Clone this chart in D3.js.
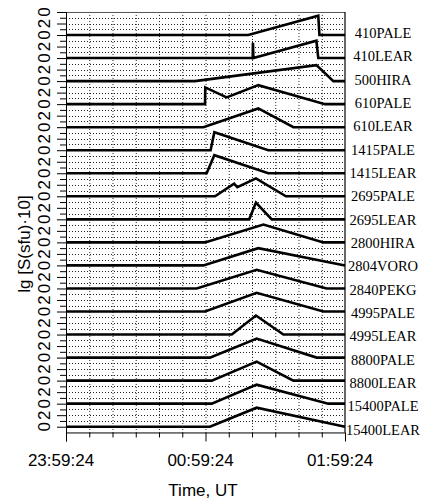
<!DOCTYPE html>
<html><head><meta charset="utf-8">
<script src="https://cdn.jsdelivr.net/npm/d3@7"></script>
<style>body{margin:0;background:#fff}svg{display:block}</style>
</head><body>
<script>
// station labels (top to bottom)
const stations = ["410PALE","410LEAR","500HIRA","610PALE","610LEAR","1415PALE","1415LEAR","2695PALE","2695LEAR","2800HIRA","2804VORO","2840PEKG","4995PALE","4995LEAR","8800PALE","8800LEAR","15400PALE","15400LEAR"];
// time of each vertex, minutes after 23:59:24 UT
const times = [
  [0,78.4,108.5,109.0,120],
  [0,80.3,80.4,80.6,107.7,108.5,120],
  [0,55.5,107.7,115.0,120],
  [0,59.8,59.9,69.1,82.7,111.4,120],
  [0,59.1,82.7,97.8,120],
  [0,62.2,63.8,87.0,120],
  [0,60.5,63.8,87.0,120],
  [0,64.1,72.3,73.7,81.7,94.6,120],
  [0,78.8,81.7,88.5,120],
  [0,59.8,84.9,110.7,120],
  [0,59.1,82.7,120],
  [0,56.2,82.0,112.1,120],
  [0,59.8,82.0,110.7,120],
  [0,71.3,81.7,93.5,120],
  [0,61.9,82.0,107.8,120],
  [0,62.7,82.0,97.8,120],
  [0,62.7,82.0,112.8,120],
  [0,61.9,82.0,120]
];
// lg [S(sfu)*10] value at each vertex
const values = [
  [0,0,3.36,0,0],
  [0,0,2.66,0,3.0,0,0],
  [0,0,2.78,0,0],
  [0,0,2.9,1.17,3.3,0,0],
  [0,0,3.25,0,0],
  [0,0,3.13,0,0],
  [0,0,3.13,0,0],
  [0,0,2.2,1.6,3.1,0,0],
  [0,0,2.9,0,0],
  [0,0,3.1,0,0],
  [0,0,3.0,0],
  [0,0,3.25,0,0],
  [0,0,3.25,0,0],
  [0,0,3.3,0,0],
  [0,0,3.3,0,0],
  [0,0,3.3,0,0],
  [0,0,3.3,0,0],
  [0,0,3.3,0]
];
const xTickLabels = ["23:59:24","00:59:24","01:59:24"];
const yTickLabels = ["0","2"];
const rowSpan = 4; // lg units per row

const W=422,H=501;
const svg=d3.select("body").append("svg").attr("width",W).attr("height",H);
const nRows=stations.length;
const x=d3.scaleLinear().domain([0,120]).range([66,345]);
// stacked lg scale: bottom row baseline = 0
const y=d3.scaleLinear().domain([0,nRows*rowSpan]).range([426.7,426.7-23.04*nRows]);
const yBottom=y(-1), yTop=y(nRows*rowSpan);
const labelY=d3.scaleLinear().domain([0,nRows-1]).range([33,429.5]);

// dotted grid
const g=svg.append("g");
const vgrid=d3.range(10,120,10);
g.selectAll("line.vg").data(vgrid).join("line")
 .attr("x1",d=>x(d)+0.5).attr("x2",d=>x(d)+0.5).attr("y1",yTop).attr("y2",yBottom)
 .attr("stroke","#222").attr("stroke-width",1).attr("stroke-dasharray","1,2");
const hgrid=d3.range(1,nRows*rowSpan).filter(v=>v%rowSpan!==0);
g.selectAll("line.hg").data(hgrid).join("line")
 .attr("x1",x(0)).attr("x2",x(120)).attr("y1",d=>Math.round(y(d))+0.5).attr("y2",d=>Math.round(y(d))+0.5)
 .attr("stroke","#222").attr("stroke-width",1).attr("stroke-dasharray","1,2");

// frame
svg.append("line").attr("x1",x(0)).attr("x2",x(120)).attr("y1",yTop+0.5).attr("y2",yTop+0.5).attr("stroke","#555").attr("stroke-width",1);
svg.append("line").attr("x1",x(120)).attr("x2",x(120)).attr("y1",yTop).attr("y2",yBottom).attr("stroke","#000").attr("stroke-width",1.2);

// x axis
const xAxis=d3.axisBottom(x).tickValues(d3.range(0,121,10)).tickSize(5).tickFormat("");
const xa=svg.append("g").attr("transform",`translate(0,${yBottom})`).call(xAxis);
xa.select(".domain").attr("stroke","#000");
xa.selectAll(".tick line").attr("y2",d=>d%60===0?9:5);
svg.selectAll("text.xl").data([0,60,120]).join("text")
 .attr("x",d=>x(d)-5).attr("y",466).attr("text-anchor","middle")
 .attr("font-family","Liberation Sans, Arial, sans-serif").attr("font-size",17)
 .text((d,i)=>xTickLabels[i]);
svg.append("text").attr("x",203).attr("y",496).attr("text-anchor","middle")
 .attr("font-family","Liberation Sans, Arial, sans-serif").attr("font-size",17).text("Time, UT");

// y axis
const yAxis=d3.axisLeft(y).tickValues(d3.range(0,nRows*rowSpan+1,1)).tickSize(9).tickFormat("");
const ya=svg.append("g").attr("transform",`translate(${x(0)},0)`).call(yAxis);
ya.select(".domain").remove();
ya.selectAll(".tick line").attr("x2",d=>d%2===0?-9:-6);
svg.append("line").attr("x1",x(0)+0.5).attr("x2",x(0)+0.5).attr("y1",yTop).attr("y2",yBottom+9).attr("stroke","#000");
svg.selectAll("text.yl").data(d3.range(0,nRows*rowSpan+1,2)).join("text")
 .attr("transform",d=>`translate(49.5,${y(d)}) rotate(-90)`).attr("text-anchor","middle")
 .attr("font-family","Liberation Sans, Arial, sans-serif").attr("font-size",17)
 .text(d=>yTickLabels[(d%rowSpan)/2]);
svg.append("text").attr("transform","translate(30,244) rotate(-90)").attr("text-anchor","middle")
 .attr("font-family","Liberation Sans, Arial, sans-serif").attr("font-size",17).text("lg [S(sfu)·10]");

// traces
const line=d3.line();
stations.forEach((s,i)=>{
  const base=(nRows-1-i)*rowSpan;
  const pts=times[i].map((t,j)=>[x(t),y(base+values[i][j])]);
  svg.append("path").attr("d",line(pts)).attr("fill","none").attr("stroke","#000")
   .attr("stroke-width",2.6).attr("stroke-linejoin","miter");
  svg.append("text").attr("x",383).attr("y",labelY(i)).attr("dy","0.35em").attr("text-anchor","middle")
   .attr("font-family","Liberation Serif, Times New Roman, serif").attr("font-size",14.5).text(s);
});
</script>
</body></html>
